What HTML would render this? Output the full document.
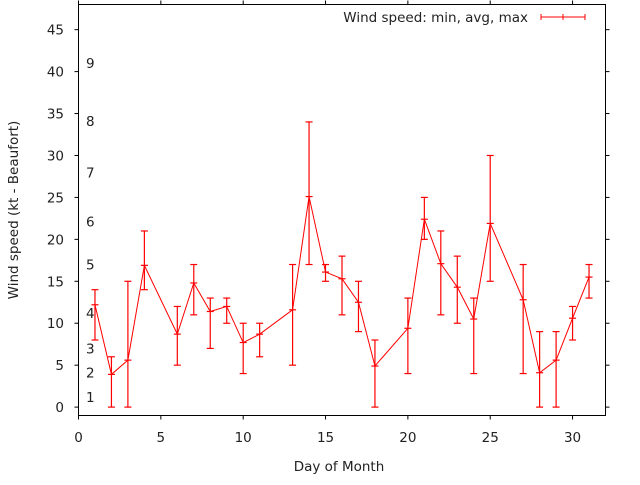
<!DOCTYPE html>
<html><head><meta charset="utf-8"><style>
body{margin:0;background:#fff}
svg text{font-family:"DejaVu Sans","Liberation Sans",sans-serif;font-size:13.5px;fill:#222}
</style></head><body>
<svg id="chart" width="640" height="480" xmlns="http://www.w3.org/2000/svg">
<rect x="0" y="0" width="640" height="480" fill="#fff"/>
<g id="axes"></g>
<g id="series"></g>
<text x="339" y="471" text-anchor="middle">Day of Month</text>
<text transform="translate(18,210) rotate(-90)" text-anchor="middle">Wind speed (kt - Beaufort)</text>
<g>
<text x="528" y="22" text-anchor="end">Wind speed: min, avg, max</text>
<line x1="541" y1="17" x2="585" y2="17" stroke="red" stroke-width="1"/>
<line x1="541" y1="14" x2="541" y2="20" stroke="red"/>
<line x1="585" y1="14" x2="585" y2="20" stroke="red"/>
<line x1="563" y1="14" x2="563" y2="20" stroke="red"/>
</g>
</svg>
<script>
const days=[1,2,3,4,6,7,8,9,10,11,13,14,15,16,17,18,20,21,22,23,24,25,27,28,29,30,31];
const mins=[8,0,0,14,5,11,7,10,4,6,5,17,15,11,9,0,4,20,11,10,4,15,4,0,0,8,13];
const avgs=[12.2,3.9,5.6,16.9,8.7,14.8,11.4,12,7.7,8.7,11.6,25.1,16.1,15.3,12.5,4.9,9.4,22.4,17.1,14.3,10.5,21.9,12.8,4.1,5.6,10.6,15.5];
const maxs=[14,6,15,21,12,17,13,13,10,10,17,34,17,18,15,8,13,25,21,18,13,30,17,9,9,12,17];
const xTicks=[0,5,10,15,20,25,30];
const yTicks=[0,5,10,15,20,25,30,35,40,45];
const beaufortLabels=["1","2","3","4","5","6","7","8","9"];
const beaufortValues=[1.2,4.1,7,11.2,17,22.1,28,34.1,41];
const L=78.5,R=605.5,T=4.5,B=415.5;
const X0=0,X1=32,Y0=-1,Y1=48;
const sx=v=>L+(v-X0)/(X1-X0)*(R-L);
const sy=v=>B-(v-Y0)/(Y1-Y0)*(B-T);
const NS="http://www.w3.org/2000/svg";
function mk(tag,attrs,parent){const e=document.createElementNS(NS,tag);for(const k in attrs)e.setAttribute(k,attrs[k]);parent.appendChild(e);return e;}
const ax=document.getElementById('axes');
const frame=mk('rect',{x:L,y:T,width:R-L,height:B-T,fill:'none',stroke:'#000','stroke-width':1},ax);


xTicks.forEach(v=>{
  const x=sx(v);
  mk('line',{x1:x,y1:B,x2:x,y2:B+4,stroke:'#000'},ax);
  mk('line',{x1:x,y1:T,x2:x,y2:T-4,stroke:'#000'},ax);
  const t=mk('text',{x:x,y:442,'text-anchor':'middle'},ax);
  t.textContent=v;
  
  
});
yTicks.forEach(v=>{
  const y=sy(v);
  mk('line',{x1:L,y1:y,x2:L-4,y2:y,stroke:'#000'},ax);
  mk('line',{x1:R,y1:y,x2:R+4,y2:y,stroke:'#000'},ax);
  const t=mk('text',{x:64,y:y+5,'text-anchor':'end'},ax);
  t.textContent=v;
  
  
});
beaufortLabels.forEach((s,i)=>{
  const t=mk('text',{x:86,y:sy(beaufortValues[i])+5},ax);
  t.textContent=s;
  
  
});
const g=document.getElementById('series');
const line=mk('polyline',{points:days.map((d,i)=>sx(d)+','+sy(avgs[i])).join(' '),fill:'none',stroke:'red','stroke-width':1},g);


days.forEach((d,i)=>{
  const x=sx(d);
  const eb=mk('g',{stroke:'red','stroke-width':1.2},g);
  
  
  mk('line',{x1:x,y1:sy(mins[i]),x2:x,y2:sy(maxs[i])},eb);
  mk('line',{x1:x-3.5,y1:sy(mins[i]),x2:x+3.5,y2:sy(mins[i])},eb);
  mk('line',{x1:x-3.5,y1:sy(maxs[i]),x2:x+3.5,y2:sy(maxs[i])},eb);
  mk('line',{x1:x-3.5,y1:sy(avgs[i]),x2:x+3.5,y2:sy(avgs[i])},eb);
});
</script>
</body></html>
